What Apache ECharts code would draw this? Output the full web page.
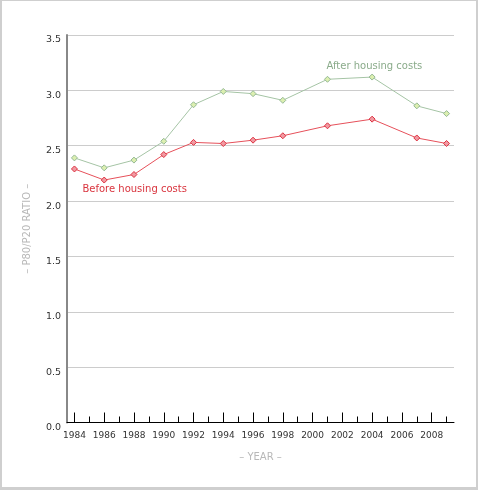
<!DOCTYPE html>
<html>
<head>
<meta charset="utf-8">
<script src="https://cdn.jsdelivr.net/npm/echarts@6/dist/echarts.min.js"></script>
<style>
  html, body { margin: 0; padding: 0; background: #fff; }
  #chart { width: 478px; height: 490px; }
  #frame {
    position: absolute; left: 0; top: 0; width: 478px; height: 490px;
    box-sizing: border-box; pointer-events: none;
    border-left: 2px solid #cfcfcf; border-top: 1px solid #cfcfcf;
    border-right: 2px solid #cfcfcf; border-bottom: 3px solid #cfcfcf;
  }
</style>
</head>
<body>
<div id="chart"></div>
<div id="frame"></div>
<script>
// years with data
const years = [1984, 1986, 1988, 1990, 1992, 1994, 1996, 1998, 2001, 2004, 2007, 2009]
// P80/P20 ratios
const beforeHousing = [2.29, 2.19, 2.24, 2.42, 2.53, 2.52, 2.55, 2.59, 2.68, 2.74, 2.57, 2.52]
const afterHousing = [2.39, 2.30, 2.37, 2.54, 2.87, 2.99, 2.97, 2.91, 3.10, 3.12, 2.86, 2.79]
// tick labels
const majorYears = [1984, 1986, 1988, 1990, 1992, 1994, 1996, 1998, 2000, 2002, 2004, 2006, 2008]
const minorYears = [1985, 1987, 1989, 1991, 1993, 1995, 1997, 1999, 2001, 2003, 2005, 2007, 2009]

const font = 'DejaVu Sans, Verdana, sans-serif'
const chart = echarts.init(document.getElementById('chart'))

// 把标签挂在某个点上
function pairs(values, labelIdx, label) {
  return values.map((v, i) => {
    if (i !== labelIdx) return [years[i], v]
    return { value: [years[i], v], label: label }
  })
}

const option = {
  animation: false,
  grid: { left: 67, right: 24, top: 35, bottom: 67.5 },
  xAxis: [
    {
      type: 'value',
      min: 1983.5,
      max: 2009.5,
      name: '– YEAR –',
      nameLocation: 'middle',
      nameGap: 30,
      nameTextStyle: { color: '#b8b8b8', fontSize: 10, fontFamily: font },
      axisLine: { show: true, lineStyle: { color: '#000', width: 1 } },
      axisTick: { show: true, inside: true, length: 10, customValues: majorYears, lineStyle: { color: '#000' } },
      axisLabel: {
        customValues: majorYears, formatter: v => String(v), hideOverlap: false,
        showMinLabel: true, showMaxLabel: true,
        fontSize: 9, color: '#333', margin: 9, fontFamily: font
      },
      splitLine: { show: false }
    },
    {
      type: 'value',
      min: 1983.5,
      max: 2009.5,
      position: 'bottom',
      axisLine: { show: false },
      axisTick: { show: true, inside: true, length: 6, customValues: minorYears, lineStyle: { color: '#000' } },
      axisLabel: { show: false },
      splitLine: { show: false }
    }
  ],
  yAxis: {
    type: 'value',
    min: 0,
    max: 3.5,
    interval: 0.5,
    name: '– P80/P20 RATIO –',
    nameLocation: 'middle',
    nameGap: 35,
    nameTextStyle: { color: '#b8b8b8', fontSize: 10, fontFamily: font },
    axisLine: { show: true, lineStyle: { color: '#888', width: 2 } },
    axisTick: { show: false },
    axisLabel: {
      formatter: v => v.toFixed(1), fontSize: 9.5, color: '#333', margin: 6,
      verticalAlign: 'top', fontFamily: font
    },
    splitLine: { lineStyle: { color: '#cccccc', width: 1 } }
  },
  series: [
    {
      name: 'After housing costs',
      type: 'line',
      symbol: 'diamond',
      symbolSize: 6,
      lineStyle: { color: '#a5c4a5', width: 1 },
      itemStyle: { color: '#dcefb0', borderColor: '#94b894', borderWidth: 1 },
      data: pairs(afterHousing, 8, {
        show: true, formatter: 'After housing costs', position: 'top', distance: 4,
        align: 'left', offset: [-1, 0], color: '#8aab8a', fontSize: 10, fontFamily: font
      })
    },
    {
      name: 'Before housing costs',
      type: 'line',
      symbol: 'diamond',
      symbolSize: 6,
      lineStyle: { color: '#e6505a', width: 1 },
      itemStyle: { color: '#f09aa2', borderColor: '#dd3040', borderWidth: 1 },
      data: pairs(beforeHousing, 0, {
        show: true, formatter: 'Before housing costs', position: 'bottom', distance: 12,
        align: 'left', offset: [8, 0], color: '#d9343e', fontSize: 10, fontFamily: font
      })
    }
  ]
}
chart.setOption(option, true)
</script>
</body>
</html>
